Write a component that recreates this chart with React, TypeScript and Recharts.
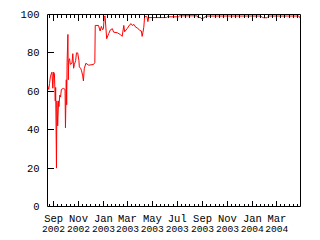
import { LineChart, Line, XAxis, YAxis } from "recharts";

// availability samples (%)
const dates = [
  "2002-08-17", "2002-08-20", "2002-08-22", "2002-08-24", "2002-08-27", "2002-08-28",
  "2002-08-30", "2002-09-01", "2002-09-03", "2002-09-05", "2002-09-06", "2002-09-08",
  "2002-09-09", "2002-09-11", "2002-09-13", "2002-09-14", "2002-09-16", "2002-09-18",
  "2002-09-20", "2002-09-25", "2002-09-29", "2002-09-30", "2002-10-02", "2002-10-03",
  "2002-10-04", "2002-10-06", "2002-10-07", "2002-10-08", "2002-10-10", "2002-10-12",
  "2002-10-16", "2002-10-18", "2002-10-20", "2002-10-22", "2002-10-25", "2002-10-27",
  "2002-10-30", "2002-11-02", "2002-11-03", "2002-11-06", "2002-11-08", "2002-11-11",
  "2002-11-13", "2002-11-15", "2002-11-19", "2002-11-26", "2002-12-08", "2002-12-11",
  "2002-12-12", "2002-12-20", "2002-12-24", "2002-12-27", "2002-12-30", "2003-01-01",
  "2003-01-03", "2003-01-05", "2003-01-09", "2003-01-12", "2003-01-14", "2003-01-18",
  "2003-01-23", "2003-01-26", "2003-02-04", "2003-02-12", "2003-02-16", "2003-02-20",
  "2003-02-22", "2003-02-28", "2003-03-07", "2003-03-10", "2003-03-13", "2003-03-17",
  "2003-03-21", "2003-03-26", "2003-03-31", "2003-04-04", "2003-04-06", "2003-04-08",
  "2003-04-10", "2003-04-12", "2003-04-17", "2003-04-18", "2003-04-20", "2003-04-22",
  "2003-06-05", "2003-06-06", "2003-07-04", "2003-07-07", "2003-08-19", "2003-08-20",
  "2003-08-28", "2003-08-31", "2003-09-04", "2003-09-11", "2004-01-21", "2004-01-25",
  "2004-01-29", "2004-02-06", "2004-02-10", "2004-04-24", "2004-04-28",
];

const uptime = [
  63, 61, 64, 67.5, 69.6, 70,
  61.6, 70, 69, 55, 62, 20,
  55, 42, 55, 52, 58, 57,
  61, 61.5, 61, 41, 66, 53,
  75, 89.6, 66, 76, 77, 74,
  74.6, 79.6, 72, 74, 76, 80,
  80, 76, 72.7, 72, 71, 68.4,
  65.4, 71.7, 74.6, 73.6, 74, 75,
  94.3, 94.3, 91.4, 93.8, 92, 92.5,
  98.6, 99.3, 87.4, 89, 90, 92,
  92.6, 90.8, 90.5, 89.5, 88.6, 94.3,
  91, 92.6, 94.8, 95.2, 94.3, 94.8,
  93.4, 92.9, 91.7, 91.4, 88.6, 90.8,
  93.4, 98.8, 99, 98.6, 96.3, 98.4,
  98.4, 98.8, 98.8, 99.3, 99.3, 98.6,
  98.3, 97.6, 98.3, 99.2, 99.2, 98.6,
  98.3, 98.3, 99.2, 99.2, 97.9,
];

const monthTicks = [
  "2002-09-01", "2002-11-01", "2003-01-01", "2003-03-01", "2003-05-01",
  "2003-07-01", "2003-09-01", "2003-11-01", "2004-01-01", "2004-03-01",
];
const monthNames = ["Sep", "Nov", "Jan", "Mar", "May", "Jul", "Sep", "Nov", "Jan", "Mar"];
const yearNames = ["2002", "2002", "2003", "2003", "2003", "2003", "2003", "2003", "2004", "2004"];
const yTicks = [0, 20, 40, 60, 80, 100];

const FONT = "'Liberation Mono', 'DejaVu Sans Mono', monospace";

const toTime = (s: string) => Date.parse(s + "T00:00:00Z");

const data = dates.map((d, i) => ({ t: toTime(d), value: uptime[i] }));
const start = data[0].t;
const end = data[data.length - 1].t;

// major tics on month starts, 6 minor divisions between them (like gnuplot mxtics)
const majorTimes = monthTicks.map(toTime);
const xTicks: number[] = [...majorTimes];
for (let i = 0; i < majorTimes.length - 1; i++) {
  const step = (majorTimes[i + 1] - majorTimes[i]) / 6;
  for (let k = 1; k < 6; k++) xTicks.push(majorTimes[i] + k * step);
}
const firstStep = (majorTimes[1] - majorTimes[0]) / 6;
for (let t = majorTimes[0] - firstStep; t > start; t -= firstStep) xTicks.push(t);
const lastStep = (majorTimes[majorTimes.length - 1] - majorTimes[majorTimes.length - 2]) / 6;
for (let t = majorTimes[majorTimes.length - 1] + lastStep; t < end; t += lastStep) xTicks.push(t);
xTicks.sort((a, b) => a - b);

const BottomTick = (props: any) => {
  const { x, y, payload } = props;
  const i = majorTimes.indexOf(payload.value);
  if (i < 0) {
    return <line x1={x} x2={x} y1={y} y2={y - 3} stroke="#000" shapeRendering="crispEdges" />;
  }
  return (
    <g>
      <line x1={x} x2={x} y1={y} y2={y - 6} stroke="#000" shapeRendering="crispEdges" />
      <text x={x} y={y + 15} textAnchor="middle" fontSize={10.5} fontFamily={FONT} fill="#000">
        {monthNames[i]}
      </text>
      <text x={x} y={y + 25} textAnchor="middle" fontSize={9.6} fontFamily={FONT} fill="#000">
        {yearNames[i]}
      </text>
    </g>
  );
};

const TopTick = (props: any) => {
  const { x, y, payload } = props;
  const len = majorTimes.indexOf(payload.value) < 0 ? 3 : 6;
  return <line x1={x} x2={x} y1={y} y2={y + len} stroke="#000" shapeRendering="crispEdges" />;
};

const LeftTick = (props: any) => {
  const { x, y, payload } = props;
  return (
    <g>
      <line x1={x} x2={x + 6} y1={y} y2={y} stroke="#000" shapeRendering="crispEdges" />
      <text x={x - 8} y={y + 3.5} textAnchor="end" fontSize={10.5} fontFamily={FONT} fill="#000">
        {payload.value}
      </text>
    </g>
  );
};

const RightTick = (props: any) => {
  const { x, y } = props;
  return <line x1={x} x2={x - 6} y1={y} y2={y} stroke="#000" shapeRendering="crispEdges" />;
};

const axisLine = { stroke: "#000", strokeWidth: 1 };

export default function App() {
  return (
    <div style={{ position: "absolute", left: 0, top: 0, width: 320, height: 240, background: "#fff" }}>
      <LineChart width={320} height={240} data={data} margin={{ top: 0.5, right: 0.5, bottom: 0.5, left: 0.5 }}>
        <XAxis
          dataKey="t"
          type="number"
          domain={[start, end]}
          ticks={xTicks}
          interval={0}
          height={33}
          tickSize={0}
          tickMargin={0}
          tickLine={false}
          axisLine={axisLine}
          tick={BottomTick}
        />
        <XAxis
          xAxisId="top"
          orientation="top"
          dataKey="t"
          type="number"
          domain={[start, end]}
          ticks={xTicks}
          interval={0}
          height={14}
          tickSize={0}
          tickMargin={0}
          tickLine={false}
          axisLine={axisLine}
          tick={TopTick}
        />
        <YAxis
          domain={[0, 100]}
          ticks={yTicks}
          interval={0}
          width={47}
          tickSize={0}
          tickMargin={0}
          tickLine={false}
          axisLine={axisLine}
          tick={LeftTick}
        />
        <YAxis
          yAxisId="right"
          orientation="right"
          domain={[0, 100]}
          ticks={yTicks}
          interval={0}
          width={19}
          tickSize={0}
          tickMargin={0}
          tickLine={false}
          axisLine={axisLine}
          tick={RightTick}
        />
        <Line
          dataKey="value"
          type="linear"
          stroke="#ff0000"
          strokeWidth={1}
          dot={false}
          isAnimationActive={false}
        />
      </LineChart>
    </div>
  );
}
